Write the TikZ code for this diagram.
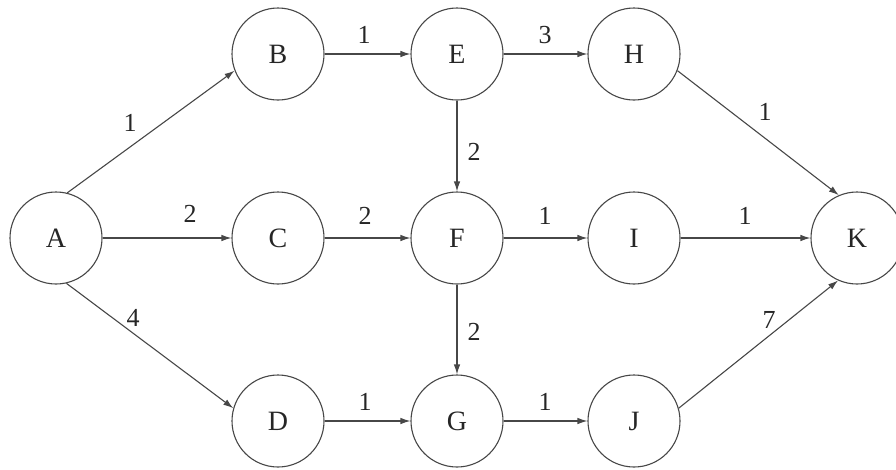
\documentclass[tikz,border=0pt]{standalone}
\usepackage{fontspec}
\setmainfont{Liberation Serif}
\usetikzlibrary{arrows.meta}
\begin{document}
\begin{tikzpicture}[x=1pt,y=-1pt,
  vertex/.style={circle,draw=black!72,line width=1.1pt,minimum size=92pt,inner sep=0pt,font=\fontsize{28}{32}\selectfont,text=black!85},
  arc/.style={draw=black!72,line width=1.1pt,-{Latex[length=10pt,width=6.5pt]}},
  wt/.style={font=\fontsize{26}{30}\selectfont,text=black!85,inner sep=0pt}]
\useasboundingbox (0,0) rectangle (896,469);
\node[vertex] (A) at (56,238) {A};
\node[vertex] (B) at (278,54) {B};
\node[vertex] (C) at (278,238) {C};
\node[vertex] (D) at (278,421) {D};
\node[vertex] (E) at (457,54) {E};
\node[vertex] (F) at (457,238) {F};
\node[vertex] (G) at (457,421) {G};
\node[vertex] (H) at (634,54) {H};
\node[vertex] (I) at (634,238) {I};
\node[vertex] (J) at (634,421) {J};
\node[vertex] (K) at (857,238) {K};
\draw[arc] (A.76) -- (B.201);
\draw[arc] (A) -- (C);
\draw[arc] (A.-77) -- (D.164);
\draw[arc] (B) -- (E);
\draw[arc] (C) -- (F);
\draw[arc] (D) -- (G);
\draw[arc] (E) -- (H);
\draw[arc] (E) -- (F);
\draw[arc] (F) -- (I);
\draw[arc] (F) -- (G);
\draw[arc] (G) -- (J);
\draw[arc] (H.-21) -- (K.113);
\draw[arc] (I) -- (K);
\draw[arc] (J.16) -- (K.-114);
\node[wt] (wAB) at (130,123) {1};
\node[wt] (wAC) at (190,214) {2};
\node[wt] (wAD) at (133,318) {4};
\node[wt] (wBE) at (364,35) {1};
\node[wt] (wEH) at (545,35) {3};
\node[wt] (wEF) at (474,152) {2};
\node[wt] (wCF) at (365,216) {2};
\node[wt] (wFI) at (545,216) {1};
\node[wt] (wFG) at (474,332) {2};
\node[wt] (wDG) at (365,402) {1};
\node[wt] (wGJ) at (545,402) {1};
\node[wt] (wHK) at (765,112) {1};
\node[wt] (wIK) at (745,216) {1};
\node[wt] (wJK) at (769,320) {7};
\end{tikzpicture}
\end{document}
